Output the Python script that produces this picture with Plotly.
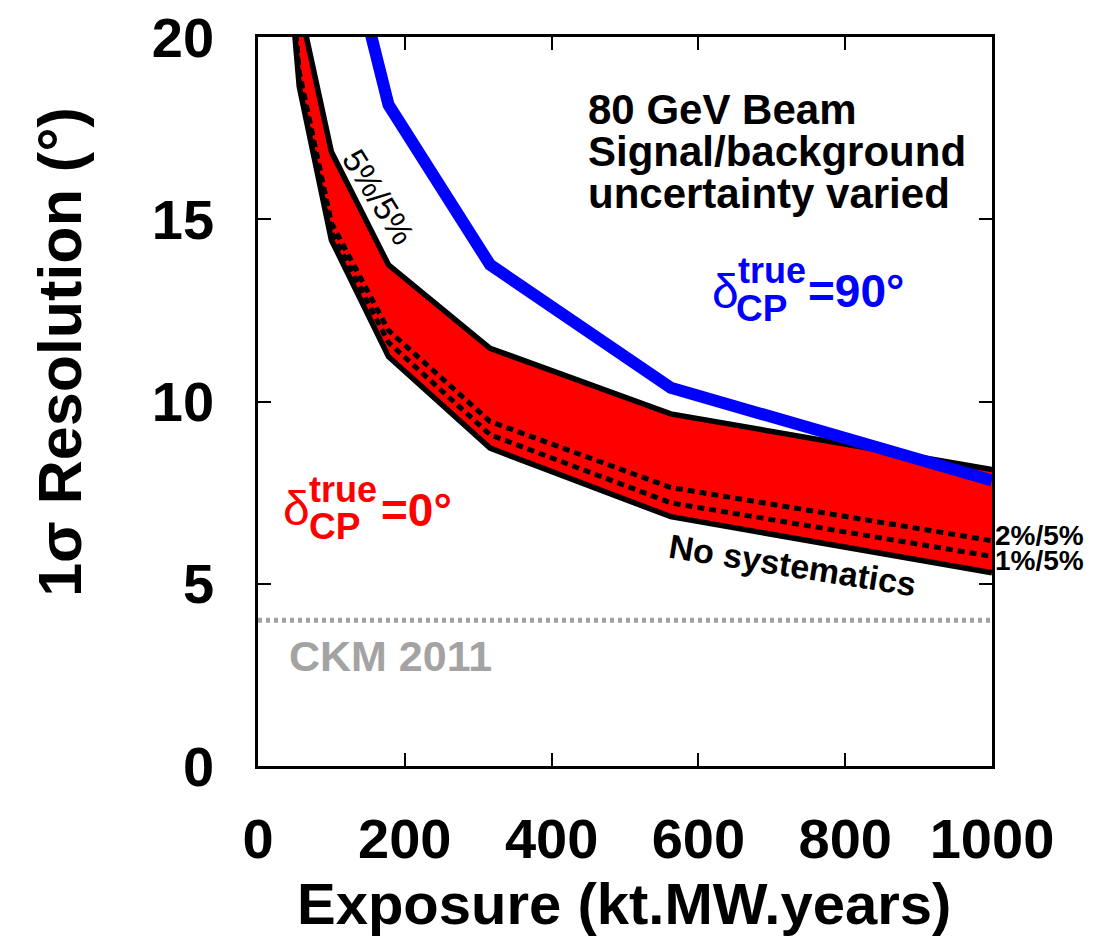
import plotly.graph_objects as go

# ---------------- data ----------------
exposure = [31.6, 56.2, 100, 177.8, 316.2, 562.3, 1000]
res_5_5 = [27.0, 20.9, 16.85, 13.75, 11.46, 9.66, 8.13]      # 5%/5% (upper edge)
res_2_5 = [25.0, 19.05, 14.9, 11.95, 9.45, 7.64, 6.18]       # 2%/5%
res_1_5 = [24.7, 18.85, 14.65, 11.62, 9.09, 7.22, 5.75]      # 1%/5%
res_nosys = [24.4, 18.64, 14.43, 11.23, 8.72, 6.84, 5.30]    # no systematics
exposure_90 = [56.2, 100, 177.8, 316.2, 562.3, 1000]
res_90 = [31.0, 24.4, 18.14, 13.75, 10.38, 7.83]             # delta_CP = 90 deg
ckm_level = 4.0

x_ticks = [0, 200, 400, 600, 800, 1000]
y_ticks = [0, 5, 10, 15, 20]

FONT = "Liberation Sans, Arial, Helvetica, sans-serif"

# page offset of the figure (body margin)
OFF = 8
# plot area in page pixels
L, R, T, B = 258, 992, 37, 766.3
W, H = 1110 - OFF, 943 - OFF


def px(xp, yp):
    return (xp - L) / (R - L), (B - yp) / (B - T)


fig = go.Figure()

# red band
fig.add_trace(go.Scatter(x=exposure, y=res_nosys, mode="lines",
                         line=dict(width=0, color="red"), showlegend=False,
                         hoverinfo="skip"))
fig.add_trace(go.Scatter(x=exposure, y=res_5_5, mode="lines", fill="tonexty",
                         fillcolor="#ff0000", line=dict(width=0, color="red"),
                         showlegend=False, hoverinfo="skip"))
# CKM line
fig.add_trace(go.Scatter(x=[0, 1000], y=[ckm_level, ckm_level], mode="lines",
                         line=dict(color="#a3a3a3", width=5, dash="4px,4px"),
                         showlegend=False))
# black solid edges
for ys in (res_5_5, res_nosys):
    fig.add_trace(go.Scatter(x=exposure, y=ys, mode="lines",
                             line=dict(color="black", width=5.5),
                             showlegend=False))
# dashed
for ys in (res_2_5, res_1_5):
    fig.add_trace(go.Scatter(x=exposure, y=ys, mode="lines",
                             line=dict(color="black", width=5, dash="7px,5px"),
                             showlegend=False))
# blue
fig.add_trace(go.Scatter(x=exposure_90, y=res_90, mode="lines",
                         line=dict(color="#0000ff", width=12),
                         showlegend=False))

ann = []


def text(xp, yp, s, size, color="black", bold=True, xanchor="left",
         yanchor="middle", angle=0):
    x, y = px(xp, yp)
    ann.append(dict(x=x, y=y, xref="paper", yref="paper", text=s,
                    showarrow=False, xanchor=xanchor, yanchor=yanchor,
                    textangle=angle,
                    font=dict(family=FONT, size=size, color=color,
                              weight="bold" if bold else "normal")))


# header text
text(586, 110, "80 GeV Beam", 42)
text(586, 152, "Signal/background", 42)
text(586, 194, "uncertainty varied", 42)

# delta_CP = 90
text(725, 292, "δ", 48, color="#0000ff", bold=False, xanchor="center")
text(736, 271, "true", 36, color="#0000ff")
text(734, 309, "CP", 37, color="#0000ff")
text(806, 291, "=90°", 46, color="#0000ff")

# delta_CP = 0
text(296, 509, "δ", 48, color="#ff0000", bold=False, xanchor="center")
text(307, 490, "true", 36, color="#ff0000")
text(307, 527, "CP", 37, color="#ff0000")
text(379, 510, "=0°", 46, color="#ff0000")

# curve labels
text(378, 197, "5%/5%", 33, bold=False, xanchor="center", angle=58)
text(792, 565, "No systematics", 34, xanchor="center", angle=9)
text(993, 536, "2%/5%", 28)
text(993, 561, "1%/5%", 28)
text(287, 656, "CKM 2011", 43, color="#a3a3a3")

# axis titles
text(624, 904, "Exposure (kt.MW.years)", 58, xanchor="center")
text(60, 352, "1σ Resolution (°)", 61, xanchor="center", angle=-90)

axis_common = dict(
    ticks="inside", ticklen=13, tickwidth=2, tickcolor="black",
    showline=True, linecolor="black", linewidth=2.5, mirror="allticks",
    showgrid=False, zeroline=False, automargin=False,
    ticklabeloverflow="allow",
    tickfont=dict(family=FONT, size=56, color="black", weight="bold"),
)

fig.update_layout(
    width=W, height=H,
    margin=dict(l=L - OFF, r=W - (R - OFF), t=T - OFF, b=H - (B - OFF), pad=0,
                autoexpand=False),
    paper_bgcolor="white", plot_bgcolor="white",
    annotations=ann,
    showlegend=False,
    xaxis=dict(range=[0, 1000], tickvals=x_ticks, ticktext=[str(v) for v in x_ticks],
               ticklabelstandoff=22, **axis_common),
    yaxis=dict(range=[0, 20], tickvals=y_ticks, ticktext=[str(v) for v in y_ticks],
               ticklabelstandoff=30, **axis_common),
)

fig.write_html("out.html")
